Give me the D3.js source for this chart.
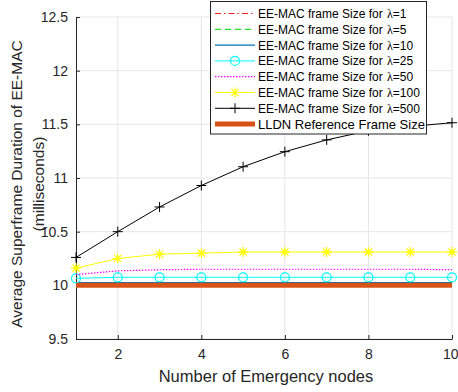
<!DOCTYPE html>
<html>
<head>
<meta charset="utf-8">
<script src="https://cdn.jsdelivr.net/npm/d3@7"></script>
<style>
  body { margin: 0; background: #fff; }
  text { font-family: "Liberation Sans", Arial, sans-serif; }
</style>
</head>
<body>
<script>
const w = 458;
const h = 392;

// data
const nodes = [1, 2, 3, 4, 5, 6, 7, 8, 9, 10];
const lam1 = [10.0, 10.0, 10.0, 10.0, 10.0, 10.0, 10.0, 10.0, 10.0, 10.0];
const lam5 = [10.005, 10.005, 10.005, 10.005, 10.005, 10.005, 10.005, 10.005, 10.005, 10.005];
const lam10 = [10.025, 10.025, 10.025, 10.025, 10.025, 10.025, 10.025, 10.025, 10.025, 10.025];
const lam25 = [10.065, 10.075, 10.075, 10.075, 10.075, 10.075, 10.075, 10.075, 10.075, 10.075];
const lam50 = [10.10, 10.135, 10.145, 10.15, 10.15, 10.15, 10.15, 10.15, 10.15, 10.145];
const lam100 = [10.16, 10.25, 10.29, 10.30, 10.31, 10.31, 10.31, 10.31, 10.31, 10.31];
const lam500 = [10.26, 10.50, 10.73, 10.93, 11.105, 11.245, 11.355, 11.44, 11.48, 11.515];
const lldn = [10.0, 10.0, 10.0, 10.0, 10.0, 10.0, 10.0, 10.0, 10.0, 10.0];
const xTicks = [2, 4, 6, 8, 10];
const yTicks = [9.5, 10, 10.5, 11, 11.5, 12, 12.5];

const series = [
  {lam: "1", vals: lam1, color: "#ff2020", dash: "6,3,1.5,3", width: 1.2, marker: null},
  {lam: "5", vals: lam5, color: "#20e020", dash: "6,4", width: 1.2, marker: null},
  {lam: "10", vals: lam10, color: "#0072bd", dash: null, width: 1.2, marker: null},
  {lam: "25", vals: lam25, color: "#00ffff", dash: null, width: 1, marker: "circle"},
  {lam: "50", vals: lam50, color: "#ff00ff", dash: "1.5,1.5", width: 1.2, marker: null},
  {lam: "100", vals: lam100, color: "#ffff00", dash: null, width: 1, marker: "star"},
  {lam: "500", vals: lam500, color: "#000000", dash: null, width: 1, marker: "plus"},
  {lam: null, vals: lldn, color: "#d95319", dash: null, width: 5, marker: null}
];

const pLeft = 76, pRight = 452, pTop = 17, pBottom = 339;

const svg = d3.select("body")
              .append("svg")
              .attr("width", w)
              .attr("height", h);

const x = d3.scaleLinear().domain([1, 10]).range([pLeft, pRight]);
const y = d3.scaleLinear().domain([9.5, 12.5]).range([pBottom, pTop]);

// grid
svg.append("g")
   .selectAll("line")
   .data(xTicks)
   .enter()
   .append("line")
   .attr("x1", d => x(d)).attr("x2", d => x(d))
   .attr("y1", pTop).attr("y2", pBottom)
   .attr("stroke", "#e6e6e6");

svg.append("g")
   .selectAll("line")
   .data(yTicks)
   .enter()
   .append("line")
   .attr("x1", pLeft).attr("x2", pRight)
   .attr("y1", d => y(d)).attr("y2", d => y(d))
   .attr("stroke", "#e6e6e6");

// axes
const xAxis = svg.append("g")
   .attr("transform", "translate(0," + pBottom + ")")
   .call(d3.axisBottom(x).tickValues(xTicks).tickSizeInner(-4).tickSizeOuter(0).tickPadding(10));
const yAxis = svg.append("g")
   .attr("transform", "translate(" + pLeft + ",0)")
   .call(d3.axisLeft(y).tickValues(yTicks).tickSizeInner(-4).tickSizeOuter(0).tickPadding(8)
         .tickFormat(d3.format("")));
[xAxis, yAxis].forEach(a => {
  a.select(".domain").attr("stroke", "#262626");
  a.selectAll(".tick line").attr("stroke", "#262626");
  a.selectAll(".tick text").attr("fill", "#262626")
   .style("font-size", "14px").style("font-family", "'Liberation Sans', Arial, sans-serif");
});
// the last x label sits on the right edge, as in the reference
xAxis.selectAll(".tick text").filter(d => d === 10).attr("text-anchor", "end").attr("dx", 6);

// lines
const line = d3.line().x((d, i) => x(nodes[i])).y(d => y(d));

const drawMarker = function(g, type, cx, cy, color) {
  if (type === "circle") {
    g.append("circle").attr("cx", cx).attr("cy", cy).attr("r", 4.5)
     .attr("fill", "none").attr("stroke", color).attr("stroke-width", 1.2);
  } else if (type === "plus") {
    g.append("path").attr("d", `M${cx - 5},${cy}H${cx + 5}M${cx},${cy - 5}V${cy + 5}`)
     .attr("stroke", color).attr("stroke-width", 1);
  } else if (type === "star") {
    g.append("path").attr("d", `M${cx - 5},${cy}H${cx + 5}M${cx},${cy - 5}V${cy + 5}` +
        `M${cx - 3.6},${cy - 3.6}L${cx + 3.6},${cy + 3.6}M${cx - 3.6},${cy + 3.6}L${cx + 3.6},${cy - 3.6}`)
     .attr("stroke", color).attr("stroke-width", 1.2);
  }
};

series.forEach(s => {
  const g = svg.append("g");
  g.append("path")
   .attr("d", line(s.vals))
   .attr("fill", "none")
   .attr("stroke", s.color)
   .attr("stroke-width", s.width)
   .attr("stroke-dasharray", s.dash);
  if (s.marker) {
    s.vals.forEach((v, i) => drawMarker(g, s.marker, x(nodes[i]), y(v), s.color));
  }
});

// axis labels
svg.append("text")
   .attr("x", (pLeft + pRight) / 2 + 2)
   .attr("y", 382)
   .attr("text-anchor", "middle")
   .attr("fill", "#262626")
   .style("font-size", "16.5px")
   .text("Number of Emergency nodes");

const yl = svg.append("text")
   .attr("transform", "translate(22," + ((pTop + pBottom) / 2 + 6) + ") rotate(-90)")
   .attr("text-anchor", "middle")
   .attr("fill", "#262626")
   .style("font-size", "15.5px");
yl.append("tspan").attr("x", 0).attr("dy", 0).text("Average Superframe Duration of EE-MAC");
yl.append("tspan").attr("x", 0).attr("dy", 22).text("(milliseconds)");

// legend
const lg = svg.append("g");
lg.append("rect")
  .attr("x", 210.5).attr("y", 1.5)
  .attr("width", 216).attr("height", 132.5)
  .attr("fill", "#fff")
  .attr("stroke", "#262626")
  .attr("stroke-width", 1);

series.forEach((s, i) => {
  const ly = 13.5 + i * 15.8;
  lg.append("line")
    .attr("x1", 215).attr("x2", 255)
    .attr("y1", ly).attr("y2", ly)
    .attr("stroke", s.color)
    .attr("stroke-width", s.width)
    .attr("stroke-dasharray", s.dash);
  if (s.marker) drawMarker(lg, s.marker, 235, ly, s.color);
  const t = lg.append("text")
    .attr("x", 258).attr("y", ly + 4.5)
    .attr("fill", "#000")
    .style("font-size", "12px");
  if (s.lam) {
    t.append("tspan").text("EE-MAC frame Size for ");
    t.append("tspan").attr("dx", 1).style("font-family", "'Liberation Serif', 'Times New Roman', serif").text("\u03bb");
    t.append("tspan").text("=" + s.lam);
  } else {
    t.text("LLDN Reference Frame Size");
    t.style("font-size", "13px");
  }
});
</script>
</body>
</html>
